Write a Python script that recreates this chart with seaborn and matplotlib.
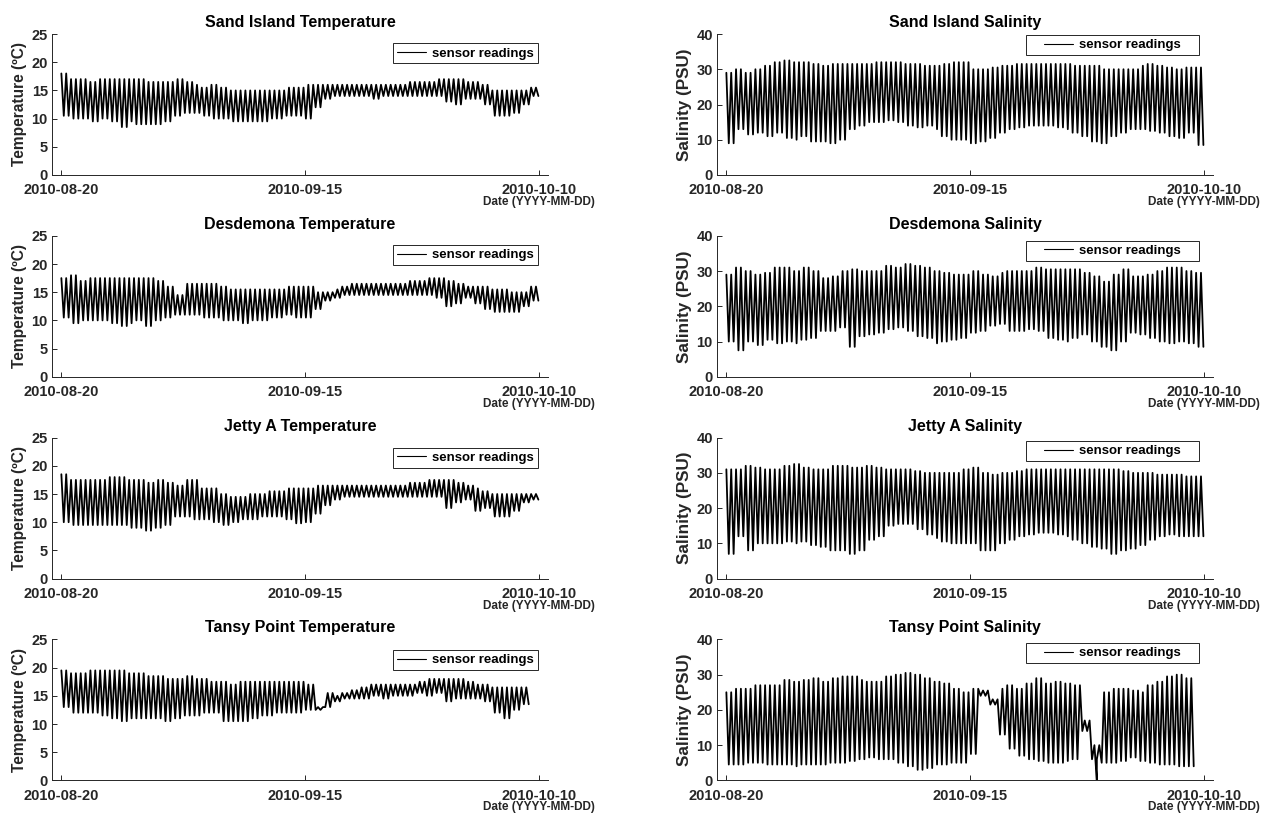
import numpy as np
import pandas as pd
import matplotlib
matplotlib.use("Agg")
import matplotlib.pyplot as plt
import matplotlib.dates as mdates
from matplotlib.patches import Rectangle
from matplotlib.transforms import IdentityTransform
import seaborn as sns

# ---------------------------------------------------------------------------
# Daily high / low water readings per station, one entry per day starting
# 2010-08-20.  Successive extremes are half a tidal cycle apart.
# ---------------------------------------------------------------------------
START = "2010-08-20"
HALF_TIDE_HOURS = 6.21

sand_temp_high = [18, 17, 17, 16.5, 17, 17, 17, 17, 17, 16.5, 16.5,
                  16.5, 17, 16.5, 16, 15.5, 16, 15.5, 15, 15, 15,
                  15, 15, 15, 15.5, 15.5, 16, 16, 16, 16, 16,
                  16, 16, 16, 16, 16, 16, 16.5, 16.5, 16.5, 17,
                  17, 17, 16.5, 16.5, 16, 15, 15, 15, 15, 15.5]
sand_temp_low = [10.5, 10, 10, 9.5, 10, 9.5, 8.5, 9.5, 9, 9, 9,
                 9.5, 10.5, 11, 11, 10.5, 10, 10, 9.5, 9.5, 9.5,
                 9.5, 10, 10, 10.5, 10.5, 10, 12, 13.5, 14, 14,
                 14, 14, 13.5, 14, 14, 14, 14, 14, 14, 14,
                 13, 12.5, 13.5, 13.5, 12.5, 10.5, 10.5, 11, 12.5, 14]

sand_sal_high = [29, 30, 29, 30, 31, 32, 32.5, 32, 32, 31.5, 31,
                 31.5, 31.5, 31.5, 31.5, 31.5, 32, 32, 32, 31.5, 31.5,
                 31, 31, 31.5, 32, 32, 30, 30, 30.5, 31, 31,
                 31.5, 31.5, 31.5, 31.5, 31.5, 31.5, 31, 31, 31, 30,
                 30, 30, 30, 31, 31.5, 31, 30.5, 30, 30.5, 30.5]
sand_sal_low = [9, 13, 11.5, 12, 11, 12, 10.5, 10, 11, 9.5, 9.5,
                9, 10, 13, 14, 15, 15, 15.5, 15, 14, 13.5,
                14, 13, 11, 10, 10, 9, 9.5, 10.5, 12, 13,
                13.5, 14, 14, 14, 13.5, 13, 12, 11, 9.5, 9,
                11, 12, 13, 13, 12.5, 12, 11, 10.5, 12, 8.5]

desd_temp_high = [17.5, 18, 17, 17.5, 17.5, 17.5, 17.5, 17.5, 17.5, 17.5, 17,
                  16, 14.5, 16.5, 16.5, 16.5, 16.5, 16, 15.5, 15.5, 15.5,
                  15.5, 15.5, 15.5, 16, 16, 16, 15, 15, 15.5, 16,
                  16.5, 16.5, 16.5, 16.5, 16.5, 16.5, 17, 17, 17.5, 17.5,
                  17, 16.5, 16, 16, 16, 15.5, 15.5, 15, 15, 16]
desd_temp_low = [10.5, 9.5, 10, 10, 10, 9.5, 9, 9.5, 10, 9, 10,
                 10.5, 11, 11, 11, 10.5, 10.5, 10, 10, 9.5, 10,
                 10, 10.5, 10.5, 11, 10.5, 10.5, 12, 13.5, 14, 14.5,
                 14.5, 14.5, 14.5, 14.5, 14.5, 14.5, 14.5, 14.5, 14.5, 14,
                 12.5, 13, 14, 13, 12, 11.5, 11.5, 11.5, 12.5, 13.5]

desd_sal_high = [29, 31, 30, 29, 29.5, 31, 31, 30, 31, 30, 28,
                 28.5, 30, 30.5, 30, 30, 30, 31.5, 31, 32, 31.5,
                 31, 30, 29.5, 29, 29, 30, 29, 28.5, 29.5, 30,
                 30, 30, 31, 30.5, 30.5, 30.5, 30.5, 29.5, 28.5, 27,
                 29, 30.5, 28.5, 28.5, 29, 30, 31, 31, 30, 29.5]
desd_sal_low = [10, 7.5, 10, 9, 10.5, 9.5, 10, 9.5, 10.5, 11, 13,
                13, 14, 8.5, 11.5, 12, 12.5, 13.5, 14, 13, 11.5,
                11, 9.5, 10, 10.5, 11, 12.5, 13, 14.5, 15, 13,
                13, 13.5, 13, 11, 10.5, 10, 11, 12, 10, 8.5,
                7.5, 10, 12.5, 12, 11, 10, 9.5, 10, 9.5, 8.5]

jetty_temp_high = [18.5, 17.5, 17.5, 17.5, 17.5, 18, 18, 17.5, 17.5, 17, 17.5,
                   17, 16.5, 17.5, 17.5, 16, 16, 15, 14.5, 14.5, 15,
                   15, 15.5, 15.5, 16, 16, 16, 16.5, 16.5, 16.5, 16.5,
                   16.5, 16.5, 16.5, 16.5, 16.5, 16.5, 17, 17, 17.5, 17.5,
                   17.5, 17, 16.5, 16, 15.5, 15, 15, 15, 15, 15]
jetty_temp_low = [10, 9.5, 9.5, 9.5, 9.5, 9.5, 9.5, 9, 9, 8.5, 9,
                  9.5, 11, 11, 10.5, 10.5, 10, 9.5, 10, 10.5, 10.5,
                  11, 11, 11, 10.5, 9.8, 10, 11.5, 13, 14, 14.5,
                  14.5, 14.5, 14.5, 14.5, 14.5, 14.5, 14.5, 14.5, 14.5, 14.5,
                  12.5, 13.5, 14, 12, 12.5, 11, 11, 12, 13.5, 14]

jetty_sal_high = [31, 31, 32, 31.5, 31, 31, 32, 32.5, 31.5, 31, 31,
                  32, 32, 31.5, 31.5, 32, 31.5, 31, 31, 31, 30.5,
                  30, 30, 30, 30, 31, 31.5, 30, 29.5, 30, 30,
                  30.5, 31, 31, 31, 31, 31, 31, 31, 31, 31,
                  31, 30.5, 30, 30, 30, 29.5, 29.5, 29.5, 29, 29]
jetty_sal_low = [7, 12, 8, 10, 10, 10, 10.5, 10, 10.5, 9.5, 9,
                 8, 8, 7, 8, 11, 12, 15, 15.5, 15.5, 14,
                 12.5, 11.5, 10.5, 10, 10, 10, 8, 8, 10, 11,
                 12, 12.5, 13, 13, 12.5, 12, 11, 10, 9, 8.5,
                 7, 8, 8.5, 9.5, 11, 12, 12.5, 12, 12, 12]

tansy_temp_high = [19.5, 19, 19, 19.5, 19.5, 19.5, 19.5, 19, 19, 18.5,
                   18.5, 18, 18, 18.5, 18, 18, 17.5, 17.5, 17, 17.5,
                   17.5, 17.5, 17.5, 17.5, 17.5, 17.5, 17, 13, 15.5, 15,
                   15.5, 16, 16.5, 17, 17, 17, 17, 17, 17.5, 18,
                   18, 18, 18, 17.5, 17, 17, 16.5, 16.5, 16.5, 16.5]
tansy_temp_low = [13, 12, 12, 12, 11.5, 11, 10.5, 11, 11, 11,
                  11, 10.5, 11, 11.5, 11.5, 12, 12, 10.5, 10.5, 10.5,
                  11, 11.5, 11.5, 12, 12, 12, 12.5, 12.5, 13, 14,
                  14.5, 14.5, 14.5, 15, 14.5, 15, 15, 15, 15.5, 15,
                  15.5, 14, 14.5, 14.5, 14.5, 14, 12, 11, 12.5, 13.5]

tansy_sal_high = [25, 26, 26, 27, 27, 27, 28.5, 28, 28.5, 29,
                  28, 29, 29.5, 29.5, 28.5, 28, 28, 29.5, 30, 30.5,
                  30, 29, 28, 27.5, 26, 25, 26, 25.5, 23, 26,
                  27, 26, 27.5, 29, 27.5, 28, 27.5, 27, 17, 10,
                  25, 26, 26, 25.5, 25, 27, 28, 29.5, 30, 29]
tansy_sal_low = [4.5, 4.5, 5, 5, 4.5, 4.5, 4.5, 4, 4.5, 4.5,
                 4.5, 5, 5, 5.5, 6, 6.5, 6, 6, 5, 4,
                 3, 3.5, 4.5, 4.5, 5, 5, 7.5, 24, 21.5, 13,
                 9, 7, 6, 5.5, 5, 5, 5.5, 6, 14, 6,
                 5, 5, 5.5, 6.5, 5.5, 5, 4.5, 4.5, 4, 4]
# single sensor dropout recorded at Tansy Point
tansy_sal_dropout_time = "2010-09-28 14:00"
tansy_sal_dropout_value = 0.0

tick_dates = ["2010-08-20", "2010-09-15", "2010-10-10"]
x_limits = ("2010-08-19", "2010-10-11")
temp_ticks = [0, 5, 10, 15, 20, 25]
sal_ticks = [0, 10, 20, 30, 40]


def tidal_series(high, low):
    """Alternate high / low water readings every half tidal cycle."""
    t0 = pd.Timestamp(START)
    n_days = len(high)
    k = np.arange(int(n_days * 24 / HALF_TIDE_HOURS) + 1)
    hours = k * HALF_TIDE_HOURS
    keep = hours < n_days * 24
    k, hours = k[keep], hours[keep]
    day = (hours // 24).astype(int)
    vals = np.where(k % 2 == 0, np.asarray(high, float)[day],
                    np.asarray(low, float)[day])
    return pd.DataFrame({"time": t0 + pd.to_timedelta(hours, unit="h"),
                         "value": vals})


tansy_sal = tidal_series(tansy_sal_high, tansy_sal_low)
tansy_sal = pd.concat([tansy_sal, pd.DataFrame(
    {"time": [pd.Timestamp(tansy_sal_dropout_time)],
     "value": [tansy_sal_dropout_value]})]).sort_values("time")

panels = [
    # title, data, kind, row, col, legend anchor (axes fraction, upper right)
    ("Sand Island Temperature", tidal_series(sand_temp_high, sand_temp_low), "temp", 0, 0, (0.979, 0.934)),
    ("Sand Island Salinity", tidal_series(sand_sal_high, sand_sal_low), "sal", 0, 1, (0.9435, 0.993)),
    ("Desdemona Temperature", tidal_series(desd_temp_high, desd_temp_low), "temp", 1, 0, (0.979, 0.935)),
    ("Desdemona Salinity", tidal_series(desd_sal_high, desd_sal_low), "sal", 1, 1, (0.9435, 0.965)),
    ("Jetty A Temperature", tidal_series(jetty_temp_high, jetty_temp_low), "temp", 2, 0, (0.979, 0.929)),
    ("Jetty A Salinity", tidal_series(jetty_sal_high, jetty_sal_low), "sal", 2, 1, (0.9435, 0.976)),
    ("Tansy Point Temperature", tidal_series(tansy_temp_high, tansy_temp_low), "temp", 3, 0, (0.979, 0.925)),
    ("Tansy Point Salinity", tansy_sal, "sal", 3, 1, (0.9435, 0.974)),
]

sns.set_theme(style="ticks")
plt.rcParams["font.family"] = ["Liberation Sans", "DejaVu Sans"]
plt.rcParams["font.weight"] = "bold"
plt.rcParams["axes.titleweight"] = "bold"
plt.rcParams["axes.labelweight"] = "bold"

INK = "#262626"
W, H = 1264, 815
fig = plt.figure(figsize=(W / 100, H / 100), dpi=100)

col_left = [52, 717]
ax_w = 496
ax_h = 141
framed_legends = []

for title, df, kind, row, col, anchor in panels:
    bottom_px = 175 + 201.8 * row
    ax = fig.add_axes([col_left[col] / W, 1 - bottom_px / H, ax_w / W, ax_h / H])
    sns.lineplot(data=df, x="time", y="value", ax=ax, color="black",
                 linewidth=1.3, estimator=None, errorbar=None, sort=False,
                 label="sensor readings")

    ax.set_xlim(pd.Timestamp(x_limits[0]), pd.Timestamp(x_limits[1]))
    ax.set_xticks([pd.Timestamp(d) for d in tick_dates])
    ax.xaxis.set_major_formatter(mdates.DateFormatter("%Y-%m-%d"))
    if kind == "temp":
        ax.set_ylim(0, 25)
        ax.set_yticks(temp_ticks)
        ax.set_ylabel("Temperature (ºC)", fontsize=11.2, labelpad=3, color=INK)
    else:
        ax.set_ylim(0, 40)
        ax.set_yticks(sal_ticks)
        ax.set_ylabel("Salinity (PSU)", fontsize=12.3, labelpad=3, color=INK)
    ax.set_xlabel("")
    ax.set_title(title, fontsize=11.5, pad=5, color="black")

    for side in ("top", "right"):
        ax.spines[side].set_visible(False)
    for side in ("left", "bottom"):
        ax.spines[side].set_color(INK)
        ax.spines[side].set_linewidth(0.7)
    ax.tick_params(axis="both", direction="in", length=3.5, width=0.7,
                   colors=INK, labelsize=10.5)
    ax.tick_params(axis="x", pad=6)
    ax.tick_params(axis="y", pad=3)

    ax.text(pd.Timestamp(tick_dates[-1]), -27 / ax_h, "Date (YYYY-MM-DD)",
            transform=ax.get_xaxis_transform(), ha="center", va="center",
            fontsize=8.5, color=INK)

    leg = ax.legend(loc="upper right", bbox_to_anchor=anchor,
                    frameon=(col == 0), fancybox=False, framealpha=1,
                    edgecolor=INK, borderpad=0.3, handletextpad=0.45,
                    handlelength=2.2, borderaxespad=0,
                    prop={"weight": "bold", "size": 9.5})
    leg.get_frame().set_linewidth(0.7)
    for handle in leg.legend_handles:
        handle.set_linewidth(0.8)
    for txt in leg.get_texts():
        txt.set_color("black")
    if col == 1:
        framed_legends.append((ax, leg))

# salinity legends sit in a wider box with extra side margins
fig.canvas.draw()
side_px = 14
for ax, leg in framed_legends:
    bb = leg.get_window_extent()
    box = Rectangle((bb.x0 - side_px, bb.y0), bb.width + 2 * side_px, bb.height,
                    transform=IdentityTransform(), facecolor="white",
                    edgecolor=INK, linewidth=0.7, zorder=4.9, clip_on=False)
    ax.add_patch(box)

fig.savefig("out.png", dpi=100)
